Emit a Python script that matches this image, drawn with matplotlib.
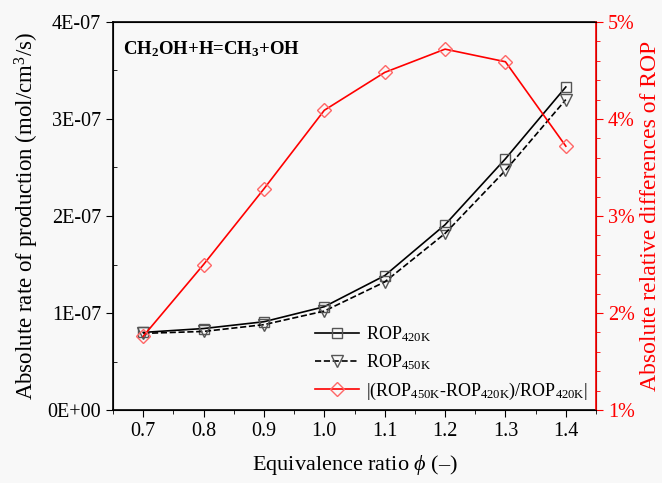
import numpy as np
import matplotlib
matplotlib.use("Agg")
import matplotlib.pyplot as plt
from matplotlib.ticker import MultipleLocator, FuncFormatter

plt.rcParams['font.family'] = ['Liberation Serif', 'DejaVu Serif']
plt.rcParams['mathtext.fontset'] = 'custom'
plt.rcParams['mathtext.rm'] = 'Liberation Serif'
plt.rcParams['mathtext.it'] = 'Liberation Serif:italic'
plt.rcParams['mathtext.bf'] = 'Liberation Serif:bold'

# data
phi = [0.7, 0.8, 0.9, 1.0, 1.1, 1.2, 1.3, 1.4]
rop_420k = [0.80e-7, 0.84e-7, 0.91e-7, 1.065e-7, 1.385e-7, 1.91e-7, 2.59e-7, 3.33e-7]
rop_450k = [0.79e-7, 0.81e-7, 0.88e-7, 1.02e-7, 1.32e-7, 1.82e-7, 2.47e-7, 3.20e-7]
rel_diff = [1.76, 2.50, 3.28, 4.09, 4.48, 4.72, 4.59, 3.72]  # percent

bg = '#f8f8f8'
fig = plt.figure(figsize=(6.62, 4.83), dpi=100, facecolor=bg)
ax = fig.add_axes([0.1707, 0.1511, 0.7296, 0.8034], facecolor=bg)
ax2 = ax.twinx()

l1, = ax.plot(phi, rop_420k, '-', color='black', lw=1.2, marker='s', ms=7,
              mfc='none', mec='#555555', mew=1.0, label=r'ROP$_{\mathregular{420K}}$')
l2, = ax.plot(phi, rop_450k, '--', color='black', lw=1.2, marker='v', ms=8,
              mfc='none', mec='#555555', mew=1.0, label=r'ROP$_{\mathregular{450K}}$')
l3, = ax2.plot(phi, rel_diff, '-', color='red', lw=1.2, marker='D', ms=7,
               mfc='none', mec='#ff6666', mew=1.0,
               label=r'|(ROP$_{\mathregular{450K}}$-ROP$_{\mathregular{420K}}$)/ROP$_{\mathregular{420K}}$|')

ax.set_xlim(0.65, 1.45)
ax.set_ylim(0, 4e-7)
ax2.set_ylim(1, 5)

ax.xaxis.set_major_locator(MultipleLocator(0.1))
ax.xaxis.set_minor_locator(MultipleLocator(0.05))
ax.xaxis.set_major_formatter(FuncFormatter(lambda v, p: f'{v:.1f}'))
ax.yaxis.set_major_locator(MultipleLocator(1e-7))
ax.yaxis.set_minor_locator(MultipleLocator(0.5e-7))
ax.yaxis.set_major_formatter(FuncFormatter(
    lambda v, p: '0E+00' if v == 0 else f'{v*1e7:.0f}E-07'))
ax2.yaxis.set_major_locator(MultipleLocator(1))
ax2.yaxis.set_minor_locator(MultipleLocator(0.2))
ax2.yaxis.set_major_formatter(FuncFormatter(lambda v, p: f'{v:.0f}%'))

ax.tick_params(axis='x', which='major', direction='out', length=5, labelsize=14.5, top=False)
ax.tick_params(axis='x', which='minor', direction='out', length=3, top=False)
ax.tick_params(axis='y', which='major', direction='out', length=5, labelsize=14.5)
ax.tick_params(axis='y', which='minor', direction='in', length=3)
ax2.tick_params(axis='y', which='major', direction='out', length=5, labelsize=14.5,
                colors='red')
ax2.tick_params(axis='y', which='minor', direction='out', length=3, colors='red')
ax2.spines['right'].set_color('red')
ax2.spines['right'].set_linewidth(1.2)
for s in ['left', 'bottom', 'top']:
    ax.spines[s].set_linewidth(1.2)

ax.set_xlabel(r'Equivalence ratio $\mathit{\phi}$ (–)', fontsize=16, labelpad=9)
ax.set_ylabel(r'Absolute rate of production (mol/cm$^{\mathregular{3}}$/s)', fontsize=16.5, labelpad=5)
ax2.set_ylabel('Absolute relative differences of ROP', fontsize=17, color='red', labelpad=4)

ax.text(0.02, 0.955, r'CH$_{\mathbf{2}}$OH+H=CH$_{\mathbf{3}}$+OH', transform=ax.transAxes,
        fontsize=13.5, fontweight='bold', va='top', ha='left')

ax2.legend(handles=[l1, l2, l3], loc='lower left', bbox_to_anchor=(0.385, -0.02),
           frameon=False, fontsize=13, handlelength=2.4, labelspacing=0.45,
           handletextpad=0.4)

fig.savefig('out.png', dpi=100, facecolor=bg)
